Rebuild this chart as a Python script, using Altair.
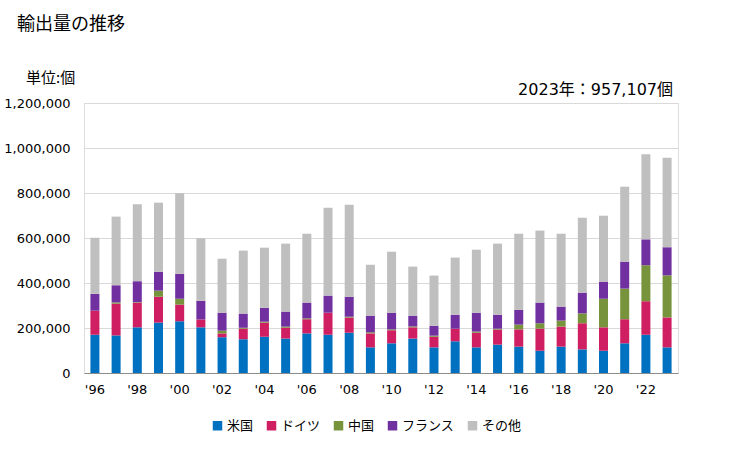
import altair as alt
import pandas as pd

years = [str(y) for y in range(1996, 2024)]
series = ["米国", "ドイツ", "中国", "フランス", "その他"]
colors = ["#0070C0", "#D01E62", "#77933C", "#7030A0", "#BFBFBF"]

usa = [170, 167, 203, 224, 230, 203, 159, 150, 161, 153, 176, 170, 179, 114, 132, 153, 114, 141, 114, 126, 117, 99, 117, 105, 99, 132, 170, 114]
germany = [107, 141, 110, 115, 74, 35, 17, 47, 63, 48, 63, 98, 67, 62, 58, 50, 47, 56, 65, 67, 77, 98, 89, 116, 104, 107, 149, 133]
china = [0, 6, 2, 27, 26, 0, 12, 4, 4, 5, 4, 0, 4, 5, 4, 4, 5, 0, 5, 4, 21, 24, 27, 44, 127, 136, 160, 187]
france = [75, 76, 93, 84, 111, 83, 80, 63, 62, 67, 70, 76, 89, 74, 74, 48, 44, 62, 84, 62, 66, 92, 62, 92, 76, 120, 115, 125]
others = [249, 305, 342, 307, 358, 278, 240, 280, 267, 302, 306, 391, 409, 226, 271, 218, 223, 254, 280, 316, 338, 320, 324, 333, 293, 333, 378, 398]

rows = []
for i, y in enumerate(years):
    for j, (name, vals) in enumerate(zip(series, [usa, germany, china, france, others])):
        rows.append({"year": y, "series": name, "value": vals[i] * 1000, "ord": j})
df = pd.DataFrame(rows)

CJK = "Noto Sans CJK JP"
NUM = "DejaVu Sans, Noto Sans CJK JP"

bars = alt.Chart(df).mark_bar(size=9).encode(
    x=alt.X("year:O", sort=years, title=None,
            scale=alt.Scale(paddingInner=0.57, paddingOuter=0.3),
            axis=alt.Axis(labelAngle=0, ticks=False, domain=True, domainColor="#8c8c8c",
                          labelExpr="parseInt(datum.value) % 2 == 0 ? \"'\" + substring(datum.value, 2) : ''",
                          labelFontSize=13, labelPadding=10, labelColor="#000000", labelFont=NUM)),
    y=alt.Y("value:Q", stack="zero", title=None,
            scale=alt.Scale(domain=[0, 1200000]),
            axis=alt.Axis(values=list(range(0, 1200001, 200000)), format=",d", ticks=False, domain=False,
                          gridColor="#d9d9d9", labelFontSize=13, labelPadding=14, labelColor="#000000",
                          labelFont=NUM)),
    color=alt.Color("series:N", sort=series,
                    scale=alt.Scale(domain=series, range=colors),
                    legend=alt.Legend(title=None, orient="none", direction="horizontal",
                                      legendX=127, legendY=316, symbolType="square", symbolSize=90,
                                      symbolStrokeWidth=0, labelFontSize=13, labelFont=CJK,
                                      columnPadding=11, labelOffset=3, labelColor="#000000")),
    order=alt.Order("ord:Q", sort="ascending"),
)

labels = ["輸出量の推移", "単位:個", "2023年：957,107個"]

t1 = alt.Chart(pd.DataFrame({"label": [labels[0]]})).mark_text(
    align="left", baseline="middle", fontSize=18, font=CJK, color="#000000").encode(
    x=alt.value(-67), y=alt.value(-78), text="label:N")
t2 = alt.Chart(pd.DataFrame({"label": [labels[1]]})).mark_text(
    align="left", baseline="middle", fontSize=15, font=CJK, color="#000000").encode(
    x=alt.value(-58), y=alt.value(-25), text="label:N")
t3 = alt.Chart(pd.DataFrame({"label": [labels[2]]})).mark_text(
    align="right", baseline="middle", fontSize=16, font=NUM, color="#000000").encode(
    x=alt.value(589), y=alt.value(-13), text="label:N")

chart = alt.layer(bars, t1, t2, t3).properties(
    width=594, height=270,
    autosize=alt.AutoSizeParams(type="none"),
    padding={"left": 84, "top": 103, "right": 51, "bottom": 77},
).configure_view(stroke=None).configure(background="#ffffff")

chart.save("out.html", embed_options={"renderer": "svg", "actions": False})
